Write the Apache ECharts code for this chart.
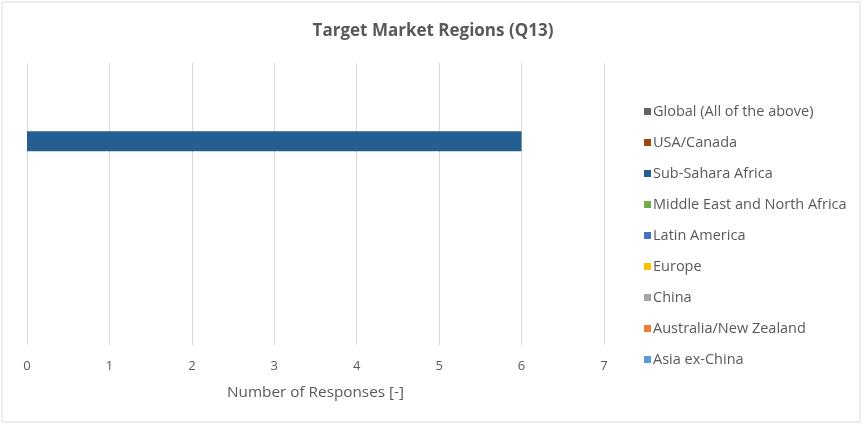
<!DOCTYPE html>
<html><head><meta charset="utf-8">
<script src="https://cdn.jsdelivr.net/npm/echarts@6/dist/echarts.min.js"></script>
<style>html,body{margin:0;padding:0;background:#fff}#c{width:866px;height:425px;}</style>
</head><body><div id="c"></div>
<script>
const categories = ["Global (All of the above)","USA/Canada","Sub-Sahara Africa","Middle East and North Africa","Latin America","Europe","China","Australia/New Zealand","Asia ex-China"];
const values = [0,0,6,0,0,0,0,0,0];
const colors = ["#636363","#9E480E","#255E91","#70AD47","#4472C4","#FFC000","#A5A5A5","#ED7D31","#5B9BD5"];
const xTicks = [0,1,2,3,4,5,6,7];

const chart = echarts.init(document.getElementById('c'));
const font = "'Open Sans', 'Liberation Sans', sans-serif";
chart.setOption({
  backgroundColor: '#fff',
  animation: false,
  graphic: [{type:'rect', shape:{x:2,y:2,width:858,height:420}, style:{fill:'none', stroke:'#d9d9d9', lineWidth:1}, silent:true}],
  title: {text: 'Target Market Regions (Q13)', left: 'center', top: 18,
    textStyle:{color:'#595959', fontSize:17, fontWeight:'bold', fontFamily:font}},
  grid: {left: 27, right: 262, top: 63, bottom: 80},
  legend: {orient:'vertical', left: 639, top: 99, itemWidth:7, itemHeight:7, itemGap:16,
    icon:'rect', textStyle:{color:'#595959', fontSize:14.5, fontFamily:font, padding:[0,0,0,-3]},
    data: categories},
  xAxis: {type:'value', min: xTicks[0], max: xTicks[xTicks.length-1], interval:1,
    name:'Number of Responses [-]', nameLocation:'middle', nameGap:40,
    nameTextStyle:{color:'#595959', fontSize:15.3, fontFamily:font},
    axisLine:{show:false}, axisTick:{show:false},
    axisLabel:{color:'#595959', fontSize:13, fontFamily:font, margin:15},
    splitLine:{lineStyle:{color:'#d9d9d9'}}},
  yAxis: {type:'category', data: categories, inverse:true,
    axisLine:{show:false}, axisTick:{show:false}, axisLabel:{show:false}, splitLine:{show:false}},
  series: categories.map((name, i) => ({
    name: name, type:'bar', stack:'all', barWidth:'64%',
    itemStyle:{color: colors[i]},
    data: categories.map((c, j) => j === i ? values[i] : null)
  }))
});
</script></body></html>
